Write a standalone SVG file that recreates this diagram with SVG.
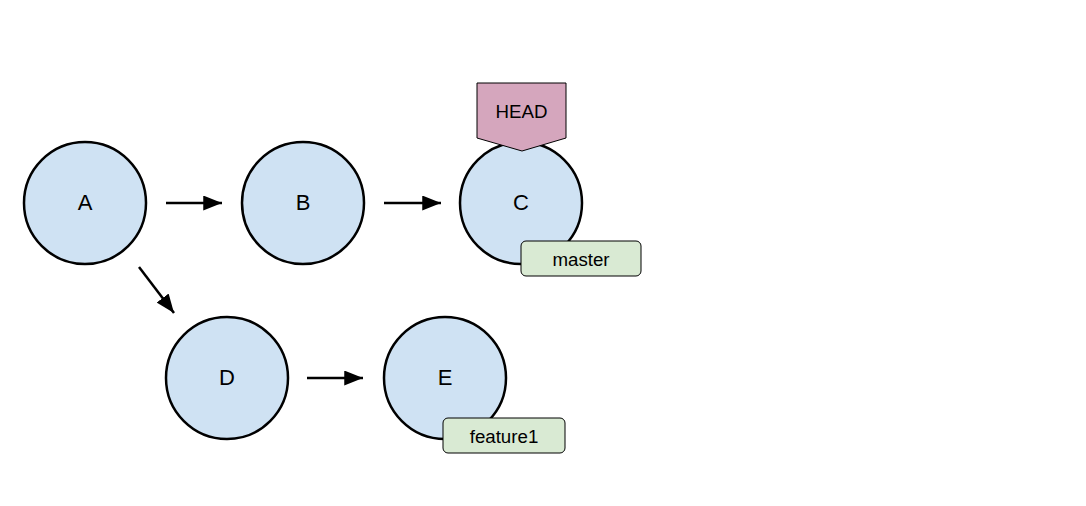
<svg xmlns="http://www.w3.org/2000/svg" width="1086" height="506" viewBox="0 0 1086 506">
<style>
.commit{fill:#cfe2f3;stroke:#000;stroke-width:2.5}
.t{font-family:"Liberation Sans",Arial,sans-serif;fill:#000;text-anchor:middle}
.big{font-size:22px}
.small{font-size:18.7px}
.branch{fill:#d9ead3;stroke:#000;stroke-width:1}
.head{fill:#d5a6bd;stroke:#000;stroke-width:1}
.conn{stroke:#000;stroke-width:2.5;fill:none;marker-end:url(#ah)}
</style>
<defs>
<marker id="ah" markerWidth="8" markerHeight="6" refX="7.5" refY="3" orient="auto" markerUnits="strokeWidth">
<path d="M0,0 L7.5,3 L0,6 Z" fill="#000"/>
</marker>
</defs>
<rect width="1086" height="506" fill="#fff"/>
<g id="connectors">
<line class="conn" x1="166" y1="203" x2="222" y2="203"/>
<line class="conn" x1="384" y1="203" x2="441" y2="203"/>
<line class="conn" x1="307" y1="378" x2="363" y2="378"/>
<line class="conn" x1="139" y1="267" x2="174" y2="313"/>
</g>
<g id="A"><circle class="commit" cx="85" cy="203" r="61"/><text class="t big" x="85" y="210">A</text></g>
<g id="B"><circle class="commit" cx="303" cy="203" r="61"/><text class="t big" x="303" y="210">B</text></g>
<g id="C"><circle class="commit" cx="521" cy="203" r="61"/><text class="t big" x="521" y="210">C</text></g>
<g id="D"><circle class="commit" cx="227" cy="378" r="61"/><text class="t big" x="227" y="385">D</text></g>
<g id="E"><circle class="commit" cx="445" cy="378" r="61"/><text class="t big" x="445" y="385">E</text></g>
<g id="HEAD"><path class="head" d="M477,83 L566,83 L566,138 L522,151 L477,138 Z"/><text class="t small" x="521.5" y="118">HEAD</text></g>
<g id="master"><rect class="branch" x="521" y="241" width="120" height="35" rx="5"/><text class="t small" x="581" y="266">master</text></g>
<g id="feature1"><rect class="branch" x="443" y="418" width="122" height="35" rx="5"/><text class="t small" x="504" y="443">feature1</text></g>
</svg>
